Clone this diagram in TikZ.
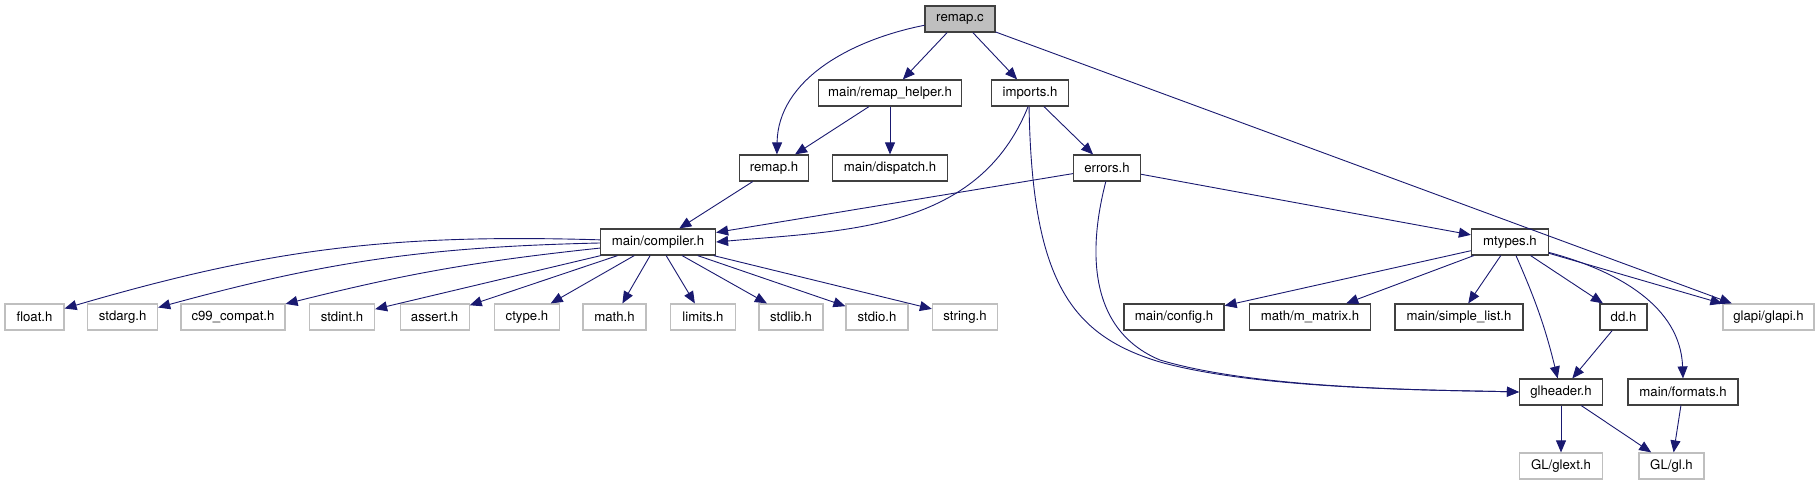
\documentclass[tikz,border=0pt]{standalone}
\usepackage{fontspec}
\setmainfont{TeX Gyre Heros}
\usetikzlibrary{arrows.meta}
\definecolor{edgeblue}{RGB}{25,25,112}
\definecolor{boxgray}{RGB}{191,191,191}
\begin{document}
\begin{tikzpicture}[x=1pt,y=-1pt,font=\fontsize{13.2}{15}\selectfont,
  hdr/.style={draw=black!75,line width=1.2pt,fill=white,minimum height=26pt,inner xsep=2pt,inner ysep=0pt},
  syshdr/.style={hdr,draw=boxgray},
  srchdr/.style={hdr,fill=boxgray},
  inc/.style={draw=edgeblue,line width=0.9pt,-{Triangle[length=12pt,width=10pt]}}]
  \useasboundingbox (0,0) rectangle (1815,485);

  \node[srchdr,minimum width=70pt] (remapc) at (960,19) {remap.c};
  \node[hdr,minimum width=143pt] (helper) at (890,93) {main/remap\_helper.h};
  \node[hdr,minimum width=77pt] (imports) at (1030,93) {imports.h};
  \node[hdr,minimum width=69pt] (remaph) at (774,168) {remap.h};
  \node[hdr,minimum width=115pt] (dispatch) at (890,168) {main/dispatch.h};
  \node[hdr,minimum width=67pt] (errors) at (1107,168) {errors.h};
  \node[hdr,minimum width=115pt] (compiler) at (658,242) {main/compiler.h};
  \node[hdr,minimum width=77pt] (mtypes) at (1510,242) {mtypes.h};

  \node[syshdr,minimum width=59pt] (float) at (34.5,317) {float.h};
  \node[syshdr,minimum width=70pt] (stdarg) at (122.6,317) {stdarg.h};
  \node[syshdr,minimum width=104pt] (c99) at (233,317) {c99\_compat.h};
  \node[syshdr,minimum width=65pt] (stdint) at (342,317) {stdint.h};
  \node[syshdr,minimum width=69pt] (assert) at (434.6,317) {assert.h};
  \node[syshdr,minimum width=65pt] (ctype) at (527,317) {ctype.h};
  \node[syshdr,minimum width=63pt] (math) at (614.5,317) {math.h};
  \node[syshdr,minimum width=65pt] (limits) at (703,317) {limits.h};
  \node[syshdr,minimum width=64pt] (stdlib) at (791,317) {stdlib.h};
  \node[syshdr,minimum width=62pt] (stdio) at (877,317) {stdio.h};
  \node[syshdr,minimum width=65pt] (string) at (965,317) {string.h};
  \node[hdr,minimum width=100pt] (config) at (1174,317) {main/config.h};
  \node[hdr,minimum width=121pt] (mmatrix) at (1310,317) {math/m\_matrix.h};
  \node[hdr,minimum width=128pt] (simplelist) at (1459,317) {main/simple\_list.h};
  \node[hdr,minimum width=47pt] (dd) at (1623.5,317) {dd.h};
  \node[syshdr,minimum width=91pt] (glapi) at (1768.5,317) {glapi/glapi.h};
  \node[hdr,minimum width=83pt] (glheader) at (1561,392) {glheader.h};
  \node[hdr,minimum width=110pt] (formats) at (1683,392) {main/formats.h};
  \node[syshdr,minimum width=83pt] (glext) at (1561,466) {GL/glext.h};
  \node[syshdr,minimum width=65pt] (gl) at (1671.5,466) {GL/gl.h};

  % remap.c and its direct includes
  \draw[inc] (remapc.190) .. controls (850,40) and (778,80) .. (remaph.78);
  \foreach \n in {helper,imports,glapi}{\draw[inc] (remapc) -- (\n);}
  \draw[inc] (helper) -- (remaph);
  \draw[inc] (helper) -- (dispatch);
  \draw[inc] (imports) -- (errors);
  \draw[inc] (imports.262) to[out=-112,in=5] (compiler.east);
  \draw[inc] (imports.266) .. controls (1032,280) and (1070,335) .. (1160,362) .. controls (1260,390) and (1440,390) .. (glheader.west);
  \draw[inc] (errors.265) .. controls (1088,250) and (1088,330) .. (1160,360) .. controls (1260,390) and (1440,390) .. (glheader.west);
  \draw[inc] (errors) -- (compiler);
  \draw[inc] (errors) -- (mtypes);
  \draw[inc] (remaph) -- (compiler);

  % main/compiler.h
  \draw[inc] (compiler) to[bend right=9] (float);
  \draw[inc] (compiler) to[bend right=7] (stdarg);
  \draw[inc] (compiler) to[bend right=4] (c99);
  \foreach \n in {stdint,assert,ctype,math,limits,stdlib,stdio,string}{\draw[inc] (compiler) -- (\n);}

  % mtypes.h
  \foreach \n in {config,mmatrix,simplelist,dd,glapi}{\draw[inc] (mtypes) -- (\n);}
  \draw[inc] (mtypes) to[bend left=5] (glheader);
  \draw[inc] (mtypes.345) to[out=-15,in=92] (formats.north);
  \draw[inc] (dd) -- (glheader);
  \draw[inc] (glheader) -- (glext);
  \draw[inc] (glheader) -- (gl);
  \draw[inc] (formats) -- (gl);
\end{tikzpicture}
\end{document}
